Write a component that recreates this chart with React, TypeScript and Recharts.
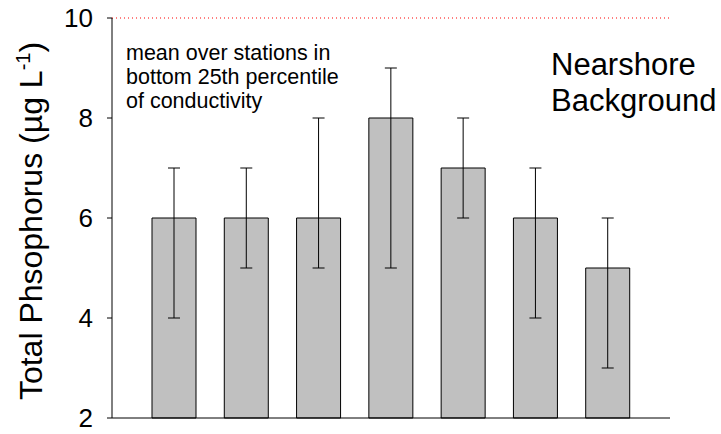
import { BarChart, Bar, XAxis, YAxis, ErrorBar, ReferenceLine } from 'recharts';

const categories = ['1', '2', '3', '4', '5', '6', '7'];
const means = [6, 6, 6, 8, 7, 6, 5];
const lower = [4, 5, 5, 5, 6, 4, 3];
const upper = [7, 7, 8, 9, 8, 7, 6];
const yTicks = [2, 4, 6, 8, 10];
const threshold = 10;

const noteLines = ['mean over stations in', 'bottom 25th percentile', 'of conductivity'];
const titleLines = ['Nearshore', 'Background'];

const FONT = '"Liberation Sans", Arial, sans-serif';

export default function App() {
  // ErrorBar wants [minus, plus] offsets from the mean
  const data = categories.map((name, i) => ({
    name,
    mean: means[i],
    err: [means[i] - lower[i], upper[i] - means[i]],
  }));

  return (
    <div style={{ position: 'absolute', left: 0, top: 0, width: 721, height: 434, background: '#fff' }}>
      <BarChart
        width={721}
        height={434}
        data={data}
        margin={{ top: 18, right: 51, left: 0, bottom: 0 }}
        style={{ fontFamily: FONT }}
      >
        <XAxis
          dataKey="name"
          height={16}
          tick={false}
          tickLine={false}
          axisLine={{ stroke: '#000' }}
          padding={{ left: 26, right: 26 }}
        />
        <YAxis
          width={112}
          domain={[2, 10]}
          ticks={yTicks}
          interval={0}
          tickSize={5}
          tickMargin={14}
          tick={{ fontSize: 26, fill: '#000', fontFamily: FONT }}
          tickLine={{ stroke: '#000' }}
          axisLine={{ stroke: '#000' }}
        />
        <ReferenceLine y={threshold} stroke="#ff0000" strokeDasharray="1 3" ifOverflow="visible" />
        <Bar dataKey="mean" barSize={44} fill="#c0c0c0" stroke="#000" strokeWidth={1} isAnimationActive={false}>
          <ErrorBar dataKey="err" width={6} stroke="#000" strokeWidth={1} direction="y" />
        </Bar>
      </BarChart>

      <svg
        width={721}
        height={434}
        style={{ position: 'absolute', left: 0, top: 0, pointerEvents: 'none', fontFamily: FONT }}
      >
        <text x={42} y={221} transform="rotate(-90 42 221)" textAnchor="middle" fontSize={32} fill="#000">
          Total Phsophorus (µg L
          <tspan fontSize={20} dy={-12}>-1</tspan>
          <tspan dy={12}>)</tspan>
        </text>
        {noteLines.map((t, i) => (
          <text key={t} x={126} y={60 + i * 24} fontSize={21.5} fill="#000">
            {t}
          </text>
        ))}
        {titleLines.map((t, i) => (
          <text key={t} x={551} y={75 + i * 36} fontSize={31} fill="#000">
            {t}
          </text>
        ))}
      </svg>
    </div>
  );
}
